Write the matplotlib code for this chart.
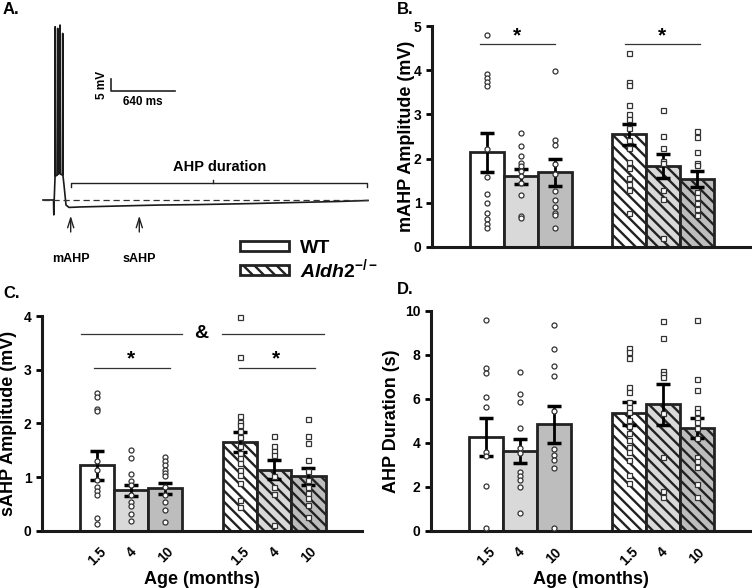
import matplotlib.pyplot as plt
import matplotlib.patches as mpatches

plt.rcParams['font.family'] = 'Liberation Sans'
plt.rcParams['font.weight'] = 'bold'
plt.rcParams['axes.labelweight'] = 'bold'
plt.rcParams['hatch.linewidth'] = 1.7
plt.rcParams['mathtext.fontset'] = 'custom'
plt.rcParams['mathtext.it'] = 'Liberation Sans:italic:bold'
plt.rcParams['mathtext.rm'] = 'Liberation Sans:bold'

# --- dados ---
ages = ['1.5', '4', '10', '1.5', '4', '10']

# trace do painel A (ms, mV)
trace_t = [0, 105, 108, 112, 120, 122, 126, 144, 147, 150, 167, 170, 173, 194, 197, 200,
           210, 230, 260, 370, 570, 960, 1170, 1570, 2070, 2570, 2970, 3250]
trace_v = [0, 0, -6.2, 0, 9.2, 72.2, 10, 10.4, 71.5, 10.8, 11.25, 72.9, 10.8, 10.4, 69.4, 10,
           6.25, -2.1, -3.1, -2.9, -2.7, -2.3, -2.1, -1.9, -1.5, -1.0, -0.6, -0.2]

# mAHP (mV)
mahp_mean = [2.14, 1.60, 1.69, 2.55, 1.83, 1.54]
mahp_sem = [0.44, 0.17, 0.30, 0.24, 0.28, 0.19]
wt_m15 = [4.80, 3.92, 3.83, 3.73, 3.64, 2.21, 1.59, 1.21, 1.00, 0.76, 0.63, 0.52, 0.44]
wt_m4 = [2.59, 2.28, 2.07, 1.90, 1.83, 1.72, 1.60, 1.45, 1.17, 0.71, 0.66]
wt_m10 = [3.98, 2.42, 2.30, 1.87, 1.65, 1.26, 1.07, 0.91, 0.77, 0.72, 0.42]
ko_m15 = [4.38, 3.73, 3.66, 3.21, 3.00, 2.89, 2.70, 2.42, 2.24, 1.93, 1.79, 1.57, 1.42, 1.30, 0.76]
ko_m4 = [3.09, 2.51, 2.23, 1.95, 1.90, 1.30, 1.09, 0.20]
ko_m10 = [2.62, 2.49, 2.15, 1.90, 1.85, 1.25, 1.14, 1.00, 0.85, 0.72]

# sAHP (mV)
sahp_mean = [1.22, 0.75, 0.79, 1.65, 1.14, 1.01]
sahp_sem = [0.27, 0.11, 0.10, 0.18, 0.18, 0.15]
wt_s15 = [2.56, 2.49, 2.27, 2.23, 1.30, 1.13, 0.94, 0.82, 0.74, 0.66, 0.24, 0.12]
wt_s4 = [1.50, 1.35, 1.05, 0.93, 0.85, 0.66, 0.54, 0.46, 0.32, 0.18]
wt_s10 = [1.38, 1.30, 1.22, 1.14, 1.07, 1.01, 0.82, 0.66, 0.54, 0.39, 0.17]
ko_s15 = [3.99, 3.24, 2.14, 2.03, 1.96, 1.86, 1.75, 1.57, 1.44, 1.35, 1.26, 1.13, 1.04, 0.88, 0.57, 0.45]
ko_s4 = [1.77, 1.57, 1.49, 1.41, 1.01, 0.82, 0.68, 0.11]
ko_s10 = [2.09, 1.77, 1.63, 1.32, 1.12, 0.94, 0.82, 0.70, 0.60, 0.48, 0.26]

# AHP duration (s)
dur_mean = [4.29, 3.64, 4.85, 5.35, 5.76, 4.70]
dur_sem = [0.86, 0.54, 0.85, 0.53, 0.92, 0.45]
wt_d15 = [9.59, 7.39, 7.17, 6.11, 5.65, 3.61, 3.42, 2.05, 0.15]
wt_d4 = [7.21, 6.21, 5.88, 4.70, 3.76, 3.53, 2.70, 2.52, 2.32, 2.02, 0.80]
wt_d10 = [9.36, 8.27, 7.50, 7.06, 5.45, 3.73, 3.45, 3.23, 2.88, 0.12]
ko_d15 = [8.30, 8.15, 7.85, 6.56, 6.30, 5.88, 5.65, 5.42, 5.05, 4.79, 4.44, 4.14, 3.83, 3.61, 3.23, 2.55, 2.17]
ko_d4 = [9.55, 8.76, 7.27, 7.14, 7.02, 5.35, 3.38, 1.83, 1.56]
ko_d10 = [9.59, 6.89, 6.41, 5.61, 5.42, 5.15, 4.94, 4.70, 4.21, 3.38, 3.18, 2.92, 2.12, 1.56]

# --- estilo ---
pos = [0, 1, 2, 4.2, 5.2, 6.2]
fills = ['white', '#d9d9d9', '#bdbdbd', 'white', '#d9d9d9', '#bdbdbd']
hatches = [None, None, None, '\\\\\\', '\\\\\\', '\\\\\\']
edge = '#222222'
W, H = 752, 588


def px_axes(fig, x0, y0, x1, y1):
    # posicao em pixels (topo = y0)
    return fig.add_axes([x0 / W, (H - y1) / H, (x1 - x0) / W, (y1 - y0) / H])


def painel_barras(ax, means, sems, points, ymax, ylabel, label_x, show_x):
    for i in range(6):
        ax.bar(pos[i], means[i], width=1, color=fills[i], edgecolor=edge,
               linewidth=2, hatch=hatches[i], zorder=2)
    ax.errorbar(pos, means, yerr=sems, fmt='none', ecolor='black', elinewidth=2,
                capsize=5, capthick=2.5, zorder=3)
    for i in range(6):
        mk = 'o' if i < 3 else 's'
        ax.plot([pos[i]] * len(points[i]), points[i], linestyle='none', marker=mk,
                ms=3.6, mfc='white', mec='#333333', mew=0.9, zorder=4, clip_on=False)
    ax.set_xlim(-1.62, 7.77)
    ax.set_ylim(0, ymax)
    for s in ['top', 'right']:
        ax.spines[s].set_visible(False)
    for s in ['left', 'bottom']:
        ax.spines[s].set_linewidth(2.2)
        ax.spines[s].set_color('#1a1a1a')
    ax.tick_params(axis='y', direction='out', length=4, width=2, labelsize=10, pad=3.5)
    ax.set_ylabel(ylabel, fontsize=13)
    # label_x = borda direita do texto do eixo y
    ax.yaxis.set_label_coords(label_x, 0.5)
    if show_x:
        ax.set_xticks(pos)
        ax.set_xticklabels(ages, rotation=45, ha='center', fontsize=10)
        ax.tick_params(axis='x', length=0, pad=10)
        ax.set_xlabel('Age (months)', fontsize=13, labelpad=2)
    else:
        ax.set_xticks([])


fig = plt.figure(figsize=(7.52, 5.88), dpi=100)

# A. trace
ax_a = px_axes(fig, 40, 20, 380, 300)
ax_a.axis('off')
ax_a.set_xlim(-30, 3370)
ax_a.set_ylim(-41.67, 75)
ax_a.plot(trace_t, trace_v, color='#1a1a1a', lw=1.2)
ax_a.plot([trace_t[0], trace_t[-1]], [0, 0], ls=(0, (5, 3)), color='#333333', lw=0.9)
ax_a.plot([277, 277, 3237, 3237], [5.5, 7.2, 7.2, 5.5], color='#222222', lw=1)
ax_a.plot([1700, 1700], [7.2, 8.3], color='#222222', lw=1)
ax_a.text(1770, 13.9, 'AHP duration', ha='center', va='center', fontsize=10.5)
for tx, lab in [(277, 'mAHP'), (963, 'sAHP')]:
    ax_a.annotate('', xy=(tx, -5.4), xytext=(tx, -14.5),
                  arrowprops=dict(arrowstyle='->,head_length=0.7,head_width=0.22',
                                  lw=1, color='#222222'))
    ax_a.text(tx, -24.6, lab, ha='center', va='center', fontsize=9)
ax_a.plot([680, 680, 1320], [50.4, 45.4, 45.4], color='#222222', lw=1.2)
ax_a.text(590, 47.9, '5 mV', rotation=90, ha='center', va='center', fontsize=8.5)
ax_a.text(1000, 40.8, '640 ms', ha='center', va='center', fontsize=8.5)

# B. mAHP
ax_b = px_axes(fig, 432, 26, 750, 247)
painel_barras(ax_b, mahp_mean, mahp_sem, [wt_m15, wt_m4, wt_m10, ko_m15, ko_m4, ko_m10],
              5, 'mAHP Amplitude (mV)', -0.053, False)
ax_b.plot([-0.19, 2.0], [4.6, 4.6], color='#333333', lw=0.9)
ax_b.plot([4.07, 6.3], [4.6, 4.6], color='#333333', lw=0.9)
ax_b.text(0.89, 4.78, '*', ha='center', va='center', fontsize=15)
ax_b.text(5.18, 4.78, '*', ha='center', va='center', fontsize=15)

# C. sAHP
ax_c = px_axes(fig, 42, 316, 362, 530.7)
painel_barras(ax_c, sahp_mean, sahp_sem, [wt_s15, wt_s4, wt_s10, ko_s15, ko_s4, ko_s10],
              4, 'sAHP Amplitude (mV)', -0.078, True)
ax_c.plot([-0.49, 2.5], [3.67, 3.67], color='#333333', lw=0.9)
ax_c.plot([3.65, 6.66], [3.67, 3.67], color='#333333', lw=0.9)
ax_c.text(3.06, 3.67, '&', ha='center', va='center', fontsize=14)
ax_c.plot([-0.1, 2.13], [3.03, 3.03], color='#333333', lw=0.9)
ax_c.plot([4.16, 6.4], [3.03, 3.03], color='#333333', lw=0.9)
ax_c.text(1.0, 3.2, '*', ha='center', va='center', fontsize=15)
ax_c.text(5.25, 3.2, '*', ha='center', va='center', fontsize=15)

# D. duration
ax_d = px_axes(fig, 431, 311, 750, 531)
painel_barras(ax_d, dur_mean, dur_sem, [wt_d15, wt_d4, wt_d10, ko_d15, ko_d4, ko_d10],
              10, 'AHP Duration (s)', -0.097, True)
ax_d.set_yticks([0, 2, 4, 6, 8, 10])

# legenda
handles = [mpatches.Patch(facecolor='white', edgecolor=edge, linewidth=2),
           mpatches.Patch(facecolor='white', edgecolor=edge, linewidth=2, hatch='\\\\\\')]
fig.legend(handles, ['WT', r'$\mathit{Aldh2}^{\mathit{-/-}}$'], loc='upper left',
           bbox_to_anchor=(240 / W, (H - 240) / H), frameon=False, fontsize=14,
           handlelength=2.5, handleheight=0.36, handletextpad=0.6, labelspacing=0.0,
           borderpad=0, borderaxespad=0)

# letras dos paineis
for lx, ly, lab in [(3, 10, 'A.'), (397, 10, 'B.'), (3, 294, 'C.'), (397, 290, 'D.')]:
    fig.text(lx / W, (H - ly) / H, lab, ha='left', va='center', fontsize=12)

fig.savefig('out.png', dpi=100)
